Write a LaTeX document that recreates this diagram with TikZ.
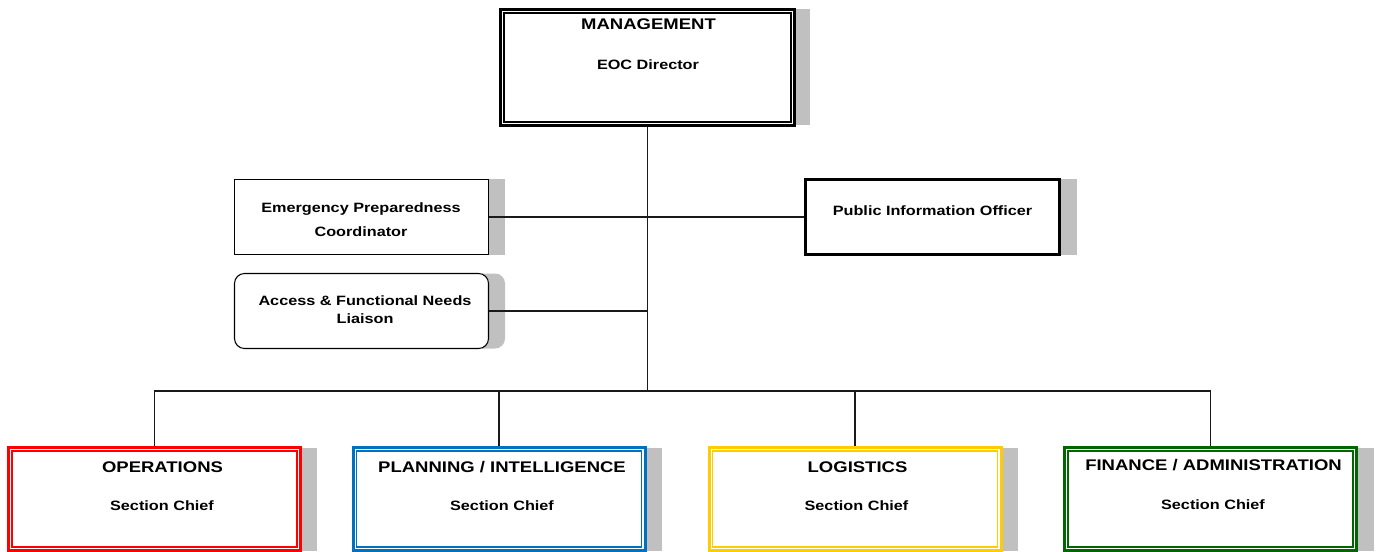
\documentclass[tikz,border=0pt]{standalone}
\usepackage{fontspec}
\setmainfont{Liberation Sans}
\newfontfamily\widefont[FakeStretch=1.2]{Liberation Sans}
\usetikzlibrary{calc,shadows}
\definecolor{shd}{HTML}{C0C0C0}
\definecolor{opsred}{HTML}{FF0000}
\definecolor{planblue}{HTML}{0070C0}
\definecolor{logyellow}{HTML}{FFCC00}
\definecolor{fingreen}{HTML}{006600}
\definecolor{linecol}{HTML}{1A1A1A}
\newcommand\ttlfont{\widefont\bfseries\fontsize{11.56}{13}\selectfont}
\newcommand\subfont{\widefont\bfseries\fontsize{10.15}{12}\selectfont}
\begin{document}
\begin{tikzpicture}[x=0.75pt,y=-0.75pt,
  box/.style={draw, fill=white, inner sep=0pt},
  shd/.style={general shadow={fill=shd, shadow xshift=#1, shadow yshift=0pt}},
  mgmt/.style={box, line width=2.25pt, minimum width=220.5pt, minimum height=87pt, shd=11.6pt},
  mid/.style={box, line width=0.8pt, minimum width=190.5pt, minimum height=56.25pt, shd=12.4pt},
  pio/.style={box, line width=2.25pt, minimum width=190.5pt, minimum height=56.25pt, shd=13.1pt},
  sect/.style={box, draw=#1, line width=2.25pt, minimum width=219pt, minimum height=77.25pt, shd=12.75pt},
  inner/.style={draw=#1, line width=1.4pt},
  conn/.style={draw=linecol, line width=0.8pt},
  txt/.style={inner sep=0pt, anchor=base}
]
\useasboundingbox (0,0) rectangle (1380,552);

% boxes
\node[mgmt] (m) at (647.5,67.5) {};
\draw[line width=1pt] ($(m.north west)+(5,5)$) rectangle ($(m.south east)+(-5,-5)$);

\node[mid] (epc) at (361.5,217) {};
\node[mid, draw=black, rounded corners=7.5pt] (acc) at (361.5,311) {};
\node[pio] (pi) at (932.5,217) {};

\node[sect=opsred] (ops) at (154.25,499) {};
\node[sect=planblue] (plan) at (499,499) {};
\node[sect=logyellow] (log) at (855,499) {};
\node[sect=fingreen] (fin) at (1210.5,499) {};
\draw[inner=opsred] ($(ops.north west)+(5,5)$) rectangle ($(ops.south east)+(-5,-5)$);
\draw[inner=planblue] ($(plan.north west)+(5,5)$) rectangle ($(plan.south east)+(-5,-5)$);
\draw[inner=logyellow] ($(log.north west)+(5,5)$) rectangle ($(log.south east)+(-5,-5)$);
\draw[inner=fingreen] ($(fin.north west)+(5,5)$) rectangle ($(fin.south east)+(-5,-5)$);

% connectors
\coordinate (bus) at (647.5,391);
\draw[conn] (m.south) -- (bus);
\draw[conn] (bus) -| (ops.north);
\draw[conn] (bus) -| (plan.north);
\draw[conn] (bus) -| (log.north);
\draw[conn] (bus) -| (fin.north);
\draw[conn] (epc.east) -- (pi.west);
\draw[conn] (acc.east) -- (acc.east -| m.south);

% texts
\node[txt, font=\ttlfont] (mt) at (648.5,30) {MANAGEMENT};
\node[txt, font=\subfont] (md) at (648,70) {EOC Director};

\node[txt, font=\subfont] (epc1) at (361,213) {Emergency Preparedness};
\node[txt, font=\subfont] (epc2) at (361,237) {Coordinator};
\node[txt, font=\subfont] (acc1) at (365,305) {Access \& Functional Needs};
\node[txt, font=\subfont] (acc2) at (365,323.5) {Liaison};
\node[txt, font=\subfont] (pit) at (932.5,215.5) {Public Information Officer};

\node[txt, font=\ttlfont] (opst) at (162.5,472.5) {OPERATIONS};
\node[txt, font=\subfont] (opss) at (162,510.5) {Section Chief};
\node[txt, font=\ttlfont] (plant) at (502,472) {PLANNING / INTELLIGENCE};
\node[txt, font=\subfont] (plans) at (502,510) {Section Chief};
\node[txt, font=\ttlfont] (logt) at (857.5,472) {LOGISTICS};
\node[txt, font=\subfont] (logs) at (856.5,510) {Section Chief};
\node[txt, font=\ttlfont] (fint) at (1213.5,470.5) {FINANCE / ADMINISTRATION};
\node[txt, font=\subfont] (fins) at (1213,509) {Section Chief};
\end{tikzpicture}
\end{document}
